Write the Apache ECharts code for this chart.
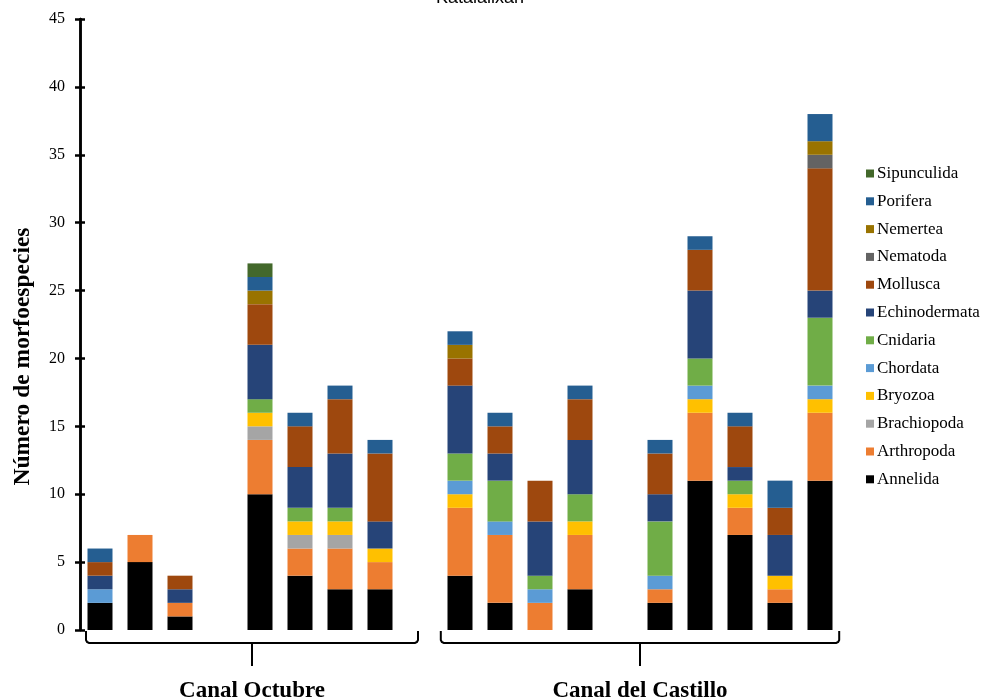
<!DOCTYPE html>
<html>
<head>
<meta charset="utf-8">
<script src="https://cdn.jsdelivr.net/npm/echarts@6/dist/echarts.min.js"></script>
<style>html,body{margin:0;padding:0;background:#fff}#c{width:988px;height:699px}</style>
</head>
<body>
<div id="c"></div>
<script>
const categories = ['CO1','CO2','CO3','gap1','CO4','CO5','CO6','CO7','gap2','CC1','CC2','CC3','CC4','gap3','CC5','CC6','CC7','CC8','CC9'];
const groups = [
  {name: 'Canal Octubre', from: 0, to: 7},
  {name: 'Canal del Castillo', from: 9, to: 18}
];
const yTicks = [0, 5, 10, 15, 20, 25, 30, 35, 40, 45];
const annelida      = [2,5,1,null,10,4,3,3,null,4,2,0,3,null,2,11,7,2,11];
const arthropoda    = [0,2,1,null,4,2,3,2,null,5,5,2,4,null,1,5,2,1,5];
const brachiopoda   = [0,0,0,null,1,1,1,0,null,0,0,0,0,null,0,0,0,0,0];
const bryozoa       = [0,0,0,null,1,1,1,1,null,1,0,0,1,null,0,1,1,1,1];
const chordata      = [1,0,0,null,0,0,0,0,null,1,1,1,0,null,1,1,0,0,1];
const cnidaria      = [0,0,0,null,1,1,1,0,null,2,3,1,2,null,4,2,1,0,5];
const echinodermata = [1,0,1,null,4,3,4,2,null,5,2,4,4,null,2,5,1,3,2];
const mollusca      = [1,0,1,null,3,3,4,5,null,2,2,3,3,null,3,3,3,2,9];
const nematoda      = [0,0,0,null,0,0,0,0,null,0,0,0,0,null,0,0,0,0,1];
const nemertea      = [0,0,0,null,1,0,0,0,null,1,0,0,0,null,0,0,0,0,1];
const porifera      = [1,0,0,null,1,1,1,1,null,1,1,0,1,null,1,1,1,2,2];
const sipunculida   = [0,0,0,null,1,0,0,0,null,0,0,0,0,null,0,0,0,0,0];

const seriesDefs = [
  ['Annelida', annelida, '#000000'],
  ['Arthropoda', arthropoda, '#ED7D31'],
  ['Brachiopoda', brachiopoda, '#A5A5A5'],
  ['Bryozoa', bryozoa, '#FFC000'],
  ['Chordata', chordata, '#5B9BD5'],
  ['Cnidaria', cnidaria, '#70AD47'],
  ['Echinodermata', echinodermata, '#264478'],
  ['Mollusca', mollusca, '#9E480E'],
  ['Nematoda', nematoda, '#636363'],
  ['Nemertea', nemertea, '#997300'],
  ['Porifera', porifera, '#255E91'],
  ['Sipunculida', sipunculida, '#43682B']
];

const serif = '"Liberation Serif", "Times New Roman", serif';
const chart = echarts.init(document.getElementById('c'), null, {renderer: 'canvas'});

const yBase = {
  type: 'value', min: 0, max: 45, interval: 5, position: 'left',
  splitLine: {show: false},
  axisLine: {show: true, lineStyle: {color: '#000', width: 2.5}}
};

chart.setOption({
  animation: false,
  backgroundColor: '#fff',
  title: {
    text: 'Katalalixan', left: 475, textAlign: 'center', top: -16,
    textStyle: {fontFamily: '"Liberation Sans", Arial, sans-serif', fontSize: 18, fontWeight: 'normal', color: '#000'}
  },
  grid: {left: 80, top: 19, width: 760, height: 611, containLabel: false},
  legend: {
    orient: 'vertical', left: 861, top: 160,
    data: seriesDefs.map(s => s[0]).reverse(),
    icon: 'rect', itemWidth: 8, itemHeight: 8, itemGap: 10.8,
    textStyle: {fontFamily: serif, fontSize: 17, color: '#000', lineHeight: 16, padding: [0,0,0,-2]},
    selectedMode: false
  },
  xAxis: {
    type: 'category', data: categories,
    axisLine: {show: false}, axisTick: {show: false}, axisLabel: {show: false}, splitLine: {show: false}
  },
  yAxis: [
    Object.assign({}, yBase, {
      axisTick: {show: true, length: 5, lineStyle: {color: '#000', width: 2.5}},
      axisLabel: {show: true, fontFamily: serif, fontSize: 16, color: '#000', margin: 15,
        formatter: v => yTicks.indexOf(v) >= 0 ? String(v) : ''},
      name: 'Número de morfoespecies', nameLocation: 'middle', nameGap: 45,
      nameTextStyle: {fontFamily: serif, fontSize: 23.5, fontWeight: 'bold', color: '#000', padding: [0, 64, 0, 0]}
    }),
    Object.assign({}, yBase, {
      axisTick: {show: true, inside: true, length: 5, lineStyle: {color: '#000', width: 2.5}},
      axisLabel: {show: false}
    })
  ],
  series: seriesDefs.map(([name, data, color]) => ({
    name, type: 'bar', stack: 'total', data, barWidth: 25,
    itemStyle: {color}, emphasis: {disabled: true}
  }))
});

// Group brackets below the bars, positioned from the category scale
const px = i => chart.convertToPixel({xAxisIndex: 0}, i);
const py = v => chart.convertToPixel({yAxisIndex: 0}, v);
const step = px(1) - px(0);
const y0 = py(0) + 1;
const yb = y0 + 12;
const r = 3;
const bracketSpec = [
  {x1: px(groups[0].from) - 0.35 * step, x2: px(groups[0].to + 1) - 0.05 * step},
  {x1: px(groups[1].from - 1) + 0.52 * step, x2: px(groups[1].to) + 0.48 * step}
];
const graphics = [];
bracketSpec.forEach((b, k) => {
  const xm = (b.x1 + b.x2) / 2;
  graphics.push({type: 'polyline', shape: {points: [
    [b.x1, y0], [b.x1, yb - r], [b.x1 + 1, yb - 1], [b.x1 + r, yb],
    [b.x2 - r, yb], [b.x2 - 1, yb - 1], [b.x2, yb - r], [b.x2, y0]
  ]}, style: {fill: null, stroke: '#000', lineWidth: 2}});
  graphics.push({type: 'line', shape: {x1: xm, y1: yb, x2: xm, y2: yb + 23},
    style: {stroke: '#000', lineWidth: 2}});
  graphics.push({type: 'text', x: xm, y: 691, style: {
    text: groups[k].name, fontFamily: serif, fontSize: 23, fontWeight: 'bold', fill: '#000',
    align: 'center', verticalAlign: 'middle'}});
});
chart.setOption({graphic: graphics});
</script>
</body>
</html>
